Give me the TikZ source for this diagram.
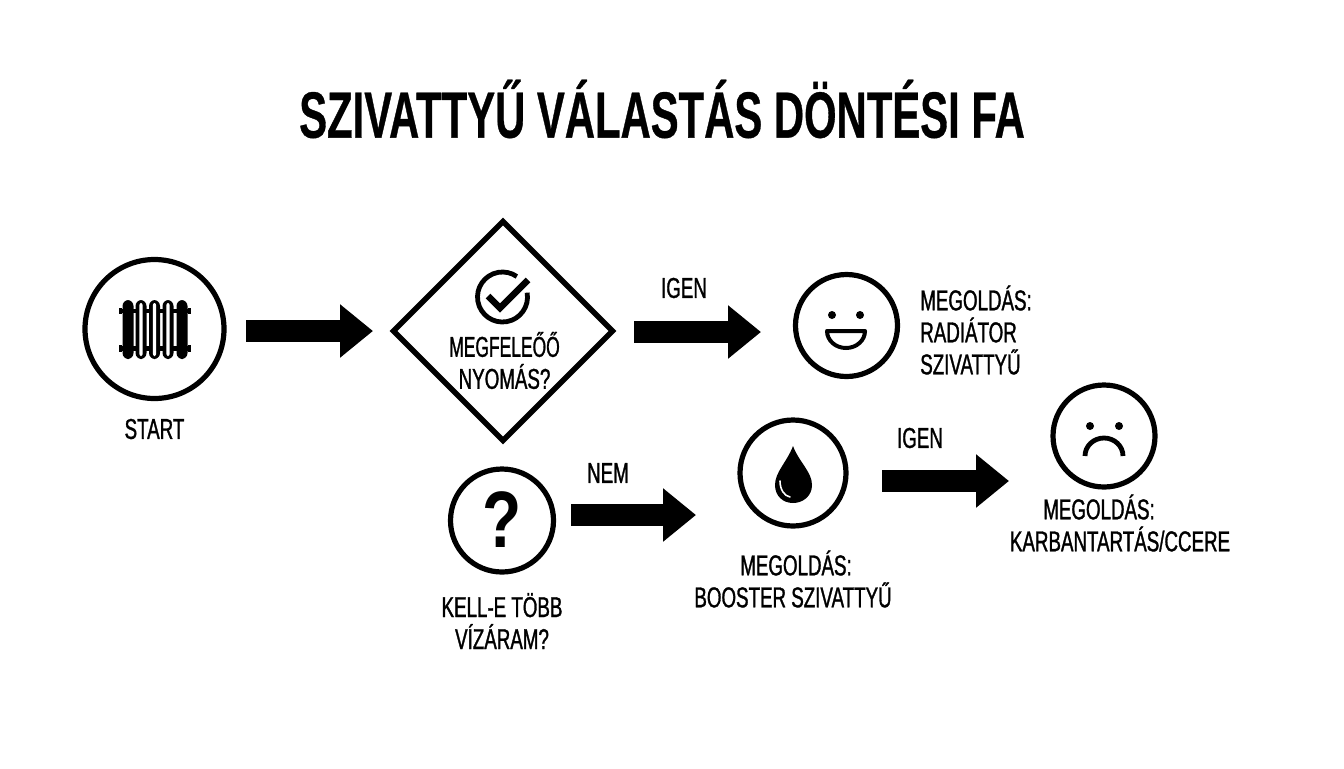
\documentclass[tikz,border=0pt]{standalone}
\usepackage{fontspec}
\setmainfont[FakeStretch=0.654,FakeBold=1.1]{Liberation Sans}
\newfontfamily\titlefont[FakeStretch=0.64,FakeBold=0.5]{Liberation Sans Bold}
\newfontfamily\qmfont[FakeStretch=0.8]{Liberation Sans Bold}
\usetikzlibrary{shapes.geometric,arrows.meta,calc}
\tikzset{
  ring/.style={circle,draw,line width=3.9pt,minimum size=#1*0.75pt,inner sep=0pt,outer sep=0pt},
  dec/.style={diamond,draw,line width=4.1pt,aspect=1,minimum size=219*0.75pt,inner sep=0pt,outer sep=0pt},
  fat/.style={line width=16.5pt,-{Triangle[length=24.75pt,width=38.5pt]}},
  lbl/.style={font=\fontsize{21.5}{24}\selectfont,align=center,inner sep=0pt},
  lbll/.style={lbl,align=left,anchor=west},
}
\begin{document}
\begin{tikzpicture}[x=0.75pt,y=-0.75pt]
\useasboundingbox (0,0) rectangle (1344,768);
\node[font=\titlefont\fontsize{49}{54}\selectfont,inner sep=0pt] (title) at (662,109) {SZIVATTYŰ VÁLASTÁS DÖNTÉSI FA};
% nodes
\node[ring=139] (start) at (154.5,329) {};
\node[dec] (press) at (503,331) {};
\node[ring=102] (happy) at (846.5,325.5) {};
\node[ring=103] (quest) at (502,520.5) {};
\node[ring=106] (drop) at (793,473) {};
\node[ring=102] (sad) at (1104,436) {};
% radiator icon
\fill (119,308) rectangle (122,314);
\fill (119,345) rectangle (122,352);
\fill (188,308) rectangle (191,314);
\fill (188,345) rectangle (191,352);
\fill (122,309) rectangle (188,313);
\fill (122,346) rectangle (188,351);
\foreach \c in {128,141,154.5,168,182}{\fill[rounded corners=4.5pt] (\c-5.5,300) rectangle (\c+5.5,359);}
\foreach \c in {141,154.5,168}{\fill[white,rounded corners=1.5pt] (\c-1.6,303) rectangle (\c+1.6,356);}
\foreach \c in {134.5,148,161.3,175}{\fill[white] (\c-.6,314) rectangle (\c+.6,345);}
% check icon
\draw[line width=3.6pt] (502.5,297) ++(-10:25) arc[start angle=-10,end angle=305,radius=25];
\draw[line width=5pt] (488,296) -- (500,308) -- (528,280);
% happy face
\fill (832,315) circle[radius=4];
\fill (860,315) circle[radius=4];
\draw[line width=3pt,line join=round] (827,331) -- (865,331) arc[start angle=0,end angle=180,x radius=19,y radius=17] -- cycle;
% question mark
\node[font=\qmfont\fontsize{60}{60}\selectfont,inner sep=0pt] (qm) at (502,520) {?};
% drop
\fill (793,446) .. controls (799,462) and (812,472) .. (812,485) .. controls (812,496) and (803,503) .. (793,503) .. controls (783,503) and (775,496) .. (775,485) .. controls (775,472) and (787,462) .. (793,446) -- cycle;
\draw[white,line width=1.2pt,line cap=round] (780,481) .. controls (780,489) and (784,496) .. (790,497);
% sad face
\fill (1090,426) circle[radius=4];
\fill (1119,426) circle[radius=4];
\draw[line width=3.6pt] (1085,456) arc[start angle=180,end angle=0,x radius=19,y radius=-18];
% connectors
\draw[fat] ($(start.east)+(22,2)$) -- ($(press.west)+(-20.5,0)$);
\draw[fat] ($(press.east)+(21.5,1)$) -- ($(happy.west)+(-34.5,6.5)$);
\draw[fat] ($(quest.east)+(17.5,-5.5)$) -- ($(drop.west)+(-44,42)$);
\draw[fat] ($(drop.east)+(36,8)$) -- ($(sad.west)+(-44,45)$);
% labels
\node[lbl] (l1) at (154.5,429) {START};
\node[lbl] (l2) at (504.5,360.5) {\scalebox{0.93}[1]{MEGFELEŐŐ}\\NYOMÁS?};
\node[lbll] (l3) at (920,330) {MEGOLDÁS:\\RADIÁTOR\\SZIVATTYŰ};
\node[lbl] (l4) at (502,621) {KELL-E TÖBB\\VÍZÁRAM?};
\node[lbl] (l5) at (793,579) {\hspace*{4.5pt}MEGOLDÁS:\\BOOSTER SZIVATTYŰ};
\node[lbl] (l6) at (1120,523) {\hspace*{-31.5pt}MEGOLDÁS:\\KARBANTARTÁS/CCERE};
\node[lbl] (y1) at (684,288) {IGEN};
\node[lbl] (n1) at (608,473) {NEM};
\node[lbl] (y2) at (920,438) {IGEN};
\end{tikzpicture}
\end{document}
